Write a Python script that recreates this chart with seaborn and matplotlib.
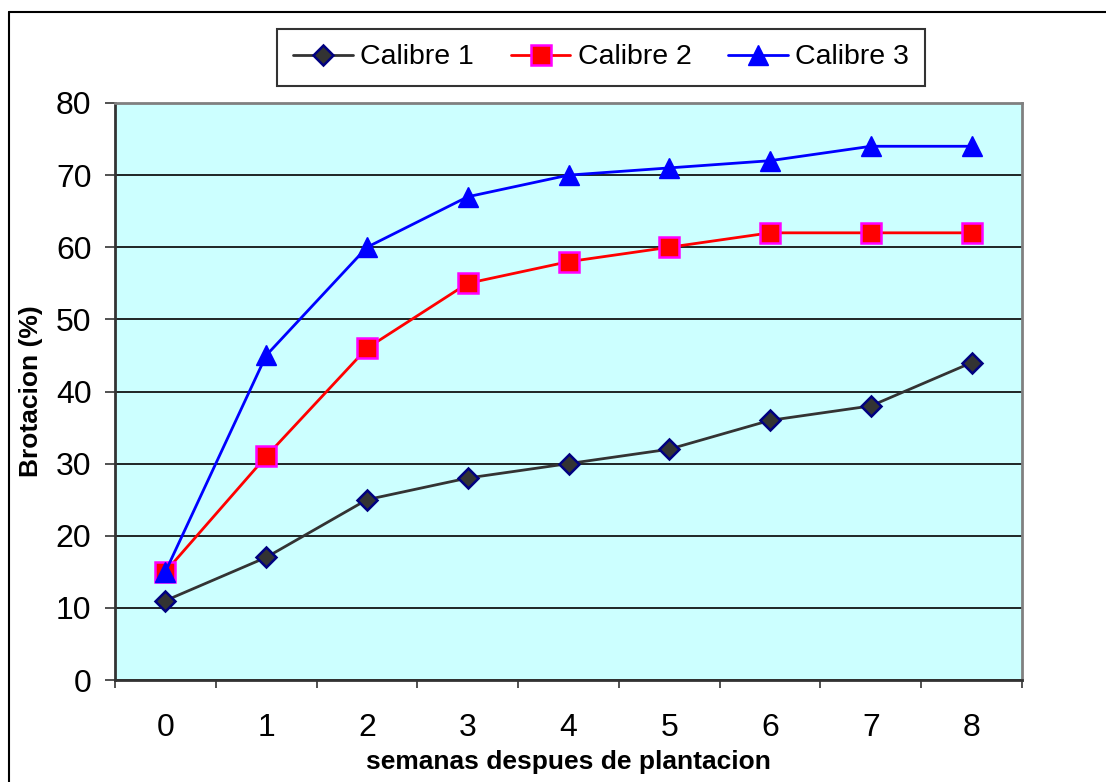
import matplotlib
matplotlib.use("Agg")
import matplotlib.pyplot as plt
from matplotlib.lines import Line2D
import seaborn as sns
import pandas as pd

weeks = [0, 1, 2, 3, 4, 5, 6, 7, 8]
calibre1 = [11, 17, 25, 28, 30, 32, 36, 38, 44]
calibre2 = [15, 31, 46, 55, 58, 60, 62, 62, 62]
calibre3 = [15, 45, 60, 67, 70, 71, 72, 74, 74]
series_names = ["Calibre 1", "Calibre 2", "Calibre 3"]
y_ticks = [0, 10, 20, 30, 40, 50, 60, 70, 80]

sns.set_theme(style="white")
plt.rcParams['font.family'] = ['Liberation Sans', 'DejaVu Sans']
plt.rcParams['text.color'] = 'black'
plt.rcParams['axes.labelcolor'] = 'black'
plt.rcParams['xtick.color'] = 'black'
plt.rcParams['ytick.color'] = 'black'

fig = plt.figure(figsize=(11.06, 7.82), dpi=100)
ax = fig.add_axes([115/1106, 1-680/782, (1022-115)/1106, (680-103)/782])
ax.set_facecolor("#CCFFFF")

df = pd.DataFrame({
    "x": weeks * 3,
    "y": calibre1 + calibre2 + calibre3,
    "s": [series_names[0]] * 9 + [series_names[1]] * 9 + [series_names[2]] * 9,
})

styles = {
    "Calibre 1": dict(color="#333333", marker="D", ms=10.5, mfc="#333333", mec="#000080", mew=1.8),
    "Calibre 2": dict(color="#FF0000", marker="s", ms=14, mfc="#FF0000", mec="#FF00FF", mew=1.8),
    "Calibre 3": dict(color="#0000FF", marker="^", ms=14, mfc="#0000FF", mec="#0000FF", mew=1.0),
}

for name in series_names:
    st = styles[name]
    sub = df[df["s"] == name]
    sns.lineplot(data=sub, x="x", y="y", ax=ax, color=st["color"], linewidth=2,
                 marker=st["marker"], markersize=st["ms"], markerfacecolor=st["mfc"],
                 markeredgecolor=st["mec"], markeredgewidth=st["mew"], label=name,
                 legend=False, zorder=3)

ax.set_xlim(-0.5, 8.5)
ax.set_ylim(0, 80)
ax.set_yticks(y_ticks)
ax.set_xticks(weeks)
ax.set_xticklabels([str(w) for w in weeks])
ax.set_xticks([w - 0.5 for w in weeks] + [8.5], minor=True)
ax.tick_params(axis="x", which="major", length=0, pad=24, labelsize=23, labelcolor="black")
ax.tick_params(axis="x", which="minor", length=6, width=1.2, direction="out", color="#333333", bottom=True)
ax.tick_params(axis="y", which="major", length=7, width=1.2, direction="out", color="#333333",
               left=True, labelsize=23, pad=10, labelcolor="black")
ax.grid(axis="y", color="black", linewidth=1.2)
ax.grid(axis="x", visible=False)
for sp in ax.spines.values():
    sp.set_color("#808080")
    sp.set_linewidth(2)
ax.spines["bottom"].set_color("#333333")
ax.spines["left"].set_color("#333333")

ax.set_xlabel("semanas despues de plantacion", fontsize=19, fontweight="bold", color="black")
ax.set_ylabel("Brotacion (%)", fontsize=19, fontweight="bold", color="black")
ax.xaxis.set_label_coords(0.5, -(762-680)/577)
ax.xaxis.label.set_verticalalignment("center")
ax.yaxis.set_label_coords(-(115-31)/907, 0.5)
ax.yaxis.label.set_verticalalignment("center")

handles = [Line2D([0], [0], color=styles[n]["color"], linewidth=2, marker=styles[n]["marker"],
                  markersize=styles[n]["ms"], markerfacecolor=styles[n]["mfc"],
                  markeredgecolor=styles[n]["mec"], markeredgewidth=styles[n]["mew"]) for n in series_names]
leg = fig.legend(handles, series_names, loc="center", bbox_to_anchor=(601/1106, 1-57.5/782), ncol=3,
                 fontsize=20.5, frameon=True, fancybox=False, handlelength=2.1, handletextpad=0.25,
                 columnspacing=1.3, borderpad=0.55, borderaxespad=0)
leg.get_frame().set_edgecolor("black")
leg.get_frame().set_linewidth(1.5)
for t in leg.get_texts():
    t.set_color("black")

# figure border
fig.add_artist(Line2D([8.5/1106, 8.5/1106], [0, 1-12/782], transform=fig.transFigure, color="black", linewidth=1.5))
fig.add_artist(Line2D([8.5/1106, 1], [1-12/782, 1-12/782], transform=fig.transFigure, color="black", linewidth=1.5))

fig.savefig("out.png", dpi=100)
